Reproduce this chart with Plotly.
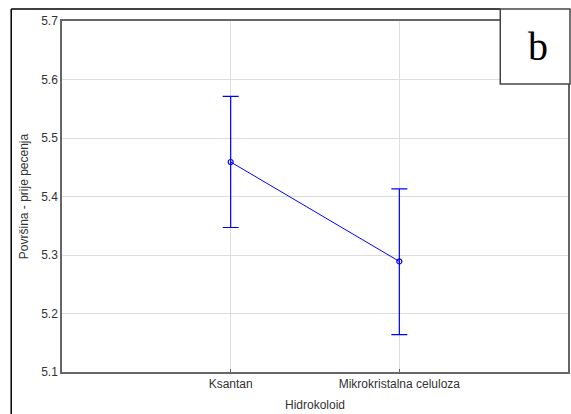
import plotly.graph_objects as go

categories = ["Ksantan", "Mikrokristalna celuloza"]
means = [5.459, 5.289]
upper = [5.571, 5.413]
lower = [5.347, 5.164]
yticks = [5.1, 5.2, 5.3, 5.4, 5.5, 5.6, 5.7]

xpos = list(range(1, len(categories) + 1))
err_plus = [u - m for u, m in zip(upper, means)]
err_minus = [m - l for m, l in zip(means, lower)]

fig = go.Figure()
fig.add_trace(go.Scatter(
    x=xpos, y=means, mode="lines+markers",
    line=dict(color="#0000ff", width=1),
    marker=dict(symbol="circle-open", size=5, color="#0000ff", line=dict(width=1.2)),
    error_y=dict(type="data", symmetric=False, array=err_plus, arrayminus=err_minus,
                 color="#0000ff", thickness=1.2, width=8),
    showlegend=False,
))

W, H = 571, 414
L, R, T, B = 62, 570, 21, 372
def px(x):
    return (x - L) / (R - L)
def py(y):
    return (B - y) / (B - T)

fig.update_layout(
    width=W, height=H,
    margin=dict(l=L, r=W - R, t=T, b=H - B),
    paper_bgcolor="white", plot_bgcolor="white",
    font=dict(family="Liberation Sans, Arial", size=12, color="#333333"),
    xaxis=dict(range=[0, 3], tickvals=xpos, ticktext=categories,
               showgrid=True, gridcolor="#dddddd", gridwidth=1,
               showline=True, linecolor="#666666", linewidth=1.5, mirror=True,
               ticks="inside", ticklen=3, tickcolor="#666666",
               zeroline=False,
               title=dict(text="Hidrokoloid", standoff=10, font=dict(size=12))),
    yaxis=dict(range=[5.1, 5.7], tickvals=yticks, tickformat=".1f",
               showgrid=True, gridcolor="#dddddd", gridwidth=1,
               showline=True, linecolor="#666666", linewidth=1.5, mirror=True,
               ticks="", zeroline=False,
               title=dict(text="Površina - prije pecenja", standoff=10, font=dict(size=12))),
    shapes=[
        dict(type="line", xref="paper", yref="paper",
             x0=px(11), x1=px(11), y0=py(420), y1=py(9),
             line=dict(color="black", width=1.5)),
        dict(type="line", xref="paper", yref="paper",
             x0=px(11), x1=px(502), y0=py(9), y1=py(9),
             line=dict(color="black", width=1.5)),
        dict(type="rect", xref="paper", yref="paper",
             x0=px(502), x1=px(572), y0=py(84), y1=py(9),
             fillcolor="white", line=dict(color="#444444", width=1.5), layer="above"),
    ],
    annotations=[
        dict(text="b", xref="paper", yref="paper", x=px(540), y=py(46),
             xanchor="center", yanchor="middle", showarrow=False,
             font=dict(family="Liberation Serif, Times New Roman", size=40, color="black")),
    ],
)

fig.write_html("out.html", config={"displayModeBar": False},
               post_script="document.body.style.margin='0';document.body.style.overflow='hidden';")
